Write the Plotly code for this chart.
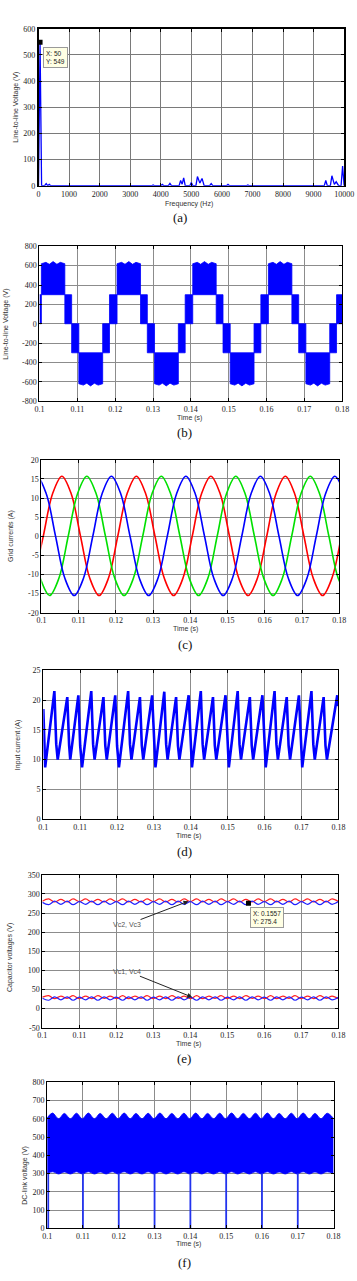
import plotly.graph_objects as go

W, H = 357, 1281

# ---------------- (a) harmonic spectrum ----------------
a_freq = [0, 50, 100, 200, 250, 300, 350, 400, 3700, 3750, 3800, 4000, 4050, 4100, 4250, 4300, 4350,
          4600, 4650, 4700, 4750, 4800, 4950, 5000, 5050, 5150, 5200, 5280, 5350, 5420, 5600, 5650, 5700,
          6150, 6200, 6250, 6800, 6850, 6900, 9350, 9400, 9450, 9550, 9600, 9680, 9740, 9820, 9900, 9950, 10000]
a_amp = [0, 549, 0, 0, 8, 0, 5, 0, 0, 3, 0, 0, 5, 0, 0, 9, 0,
         0, 20, 6, 30, 0, 0, 12, 0, 0, 35, 10, 28, 0, 0, 8, 0,
         0, 5, 0, 0, 3, 0, 0, 20, 0, 0, 38, 5, 15, 0, 0, 75, 0]
a_xticks = [0, 1000, 2000, 3000, 4000, 5000, 6000, 7000, 8000, 9000, 10000]
a_yticks = [0, 100, 200, 300, 400, 500, 600]

# ---------------- (b) line-to-line voltage (PWM bands) ----------------
b_edges = [0.1000, 0.1005, 0.1067, 0.1085, 0.1104, 0.1167, 0.1185,
           0.1205, 0.1267, 0.1285, 0.1304, 0.1367, 0.1385,
           0.1405, 0.1467, 0.1485, 0.1504, 0.1567, 0.1585,
           0.1605, 0.1667, 0.1685, 0.1704, 0.1767, 0.1785, 0.1800]
b_low = [0, 300, 0, -300, -620, -300, 0, 300, 0, -300, -620, -300, 0, 300, 0, -300, -620, -300,
         0, 300, 0, -300, -620, -300, 0]
b_high = [300, 620, 300, 0, -300, 0, 300, 620, 300, 0, -300, 0, 300, 620, 300, 0, -300, 0,
          300, 620, 300, 0, -300, 0, 300]
b_rip_pos_t = [0.1017, 0.1026, 0.1036, 0.1046, 0.1055, 0.1217, 0.1226, 0.1236, 0.1246, 0.1255,
               0.1417, 0.1426, 0.1436, 0.1446, 0.1455, 0.1617, 0.1626, 0.1636, 0.1646, 0.1655]
b_rip_pos_v = [634, 614, 642, 614, 634, 634, 614, 642, 614, 634,
               634, 614, 642, 614, 634, 634, 614, 642, 614, 634]
b_rip_neg_t = [0.1116, 0.1125, 0.1135, 0.1145, 0.1155, 0.1316, 0.1325, 0.1335, 0.1345, 0.1355,
               0.1516, 0.1525, 0.1535, 0.1545, 0.1555, 0.1716, 0.1725, 0.1735, 0.1745, 0.1755]
b_rip_neg_v = [-634, -614, -642, -614, -634, -634, -614, -642, -614, -634,
               -634, -614, -642, -614, -634, -634, -614, -642, -614, -634]
b_yticks = [-800, -600, -400, -200, 0, 200, 400, 600, 800]

# ---------------- (c) grid currents ----------------
c_red_t = [0.0980, 0.1005, 0.1030, 0.1055, 0.1080, 0.1105, 0.1130, 0.1155, 0.1180, 0.1205, 0.1230,
           0.1255, 0.1280, 0.1305, 0.1330, 0.1355, 0.1380, 0.1405, 0.1430, 0.1455, 0.1480, 0.1505,
           0.1530, 0.1555, 0.1580, 0.1605, 0.1630, 0.1655, 0.1680, 0.1705, 0.1730, 0.1755, 0.1780, 0.1805]
c_red_v = [-11.0, 0, 11.1, 15.7, 11.1, 0, -11.0, -15.5, -11.0, 0, 11.1,
           15.7, 11.1, 0, -11.0, -15.5, -11.0, 0, 11.1, 15.7, 11.1, 0,
           -11.0, -15.5, -11.0, 0, 11.1, 15.7, 11.1, 0, -11.0, -15.5, -11.0, 0]
c_grn_t = [0.0972, 0.0997, 0.1022, 0.1047, 0.1072, 0.1097, 0.1122, 0.1147, 0.1172, 0.1197, 0.1222,
           0.1247, 0.1272, 0.1297, 0.1322, 0.1347, 0.1372, 0.1397, 0.1422, 0.1447, 0.1472, 0.1497,
           0.1522, 0.1547, 0.1572, 0.1597, 0.1622, 0.1647, 0.1672, 0.1697, 0.1722, 0.1747, 0.1772,
           0.1797, 0.1822]
c_grn_v = [0, -11.0, -15.5, -11.0, 0, 11.1, 15.7, 11.1, 0, -11.0, -15.5,
           -11.0, 0, 11.1, 15.7, 11.1, 0, -11.0, -15.5, -11.0, 0, 11.1,
           15.7, 11.1, 0, -11.0, -15.5, -11.0, 0, 11.1, 15.7, 11.1, 0,
           -11.0, -15.5]
c_blu_t = [0.0963, 0.0988, 0.1013, 0.1038, 0.1063, 0.1088, 0.1113, 0.1138, 0.1163, 0.1188, 0.1213,
           0.1238, 0.1263, 0.1288, 0.1313, 0.1338, 0.1363, 0.1388, 0.1413, 0.1438, 0.1463, 0.1488,
           0.1513, 0.1538, 0.1563, 0.1588, 0.1613, 0.1638, 0.1663, 0.1688, 0.1713, 0.1738, 0.1763,
           0.1788, 0.1813]
c_blu_v = [11.1, 15.7, 11.1, 0, -11.0, -15.5, -11.0, 0, 11.1, 15.7, 11.1,
           0, -11.0, -15.5, -11.0, 0, 11.1, 15.7, 11.1, 0, -11.0, -15.5,
           -11.0, 0, 11.1, 15.7, 11.1, 0, -11.0, -15.5, -11.0, 0, 11.1,
           15.7, 11.1]
c_yticks = [-20, -15, -10, -5, 0, 5, 10, 15, 20]

# ---------------- (d) input current ----------------
d_time = [0.1000, 0.1005,
          0.1030, 0.1035, 0.1039, 0.1065, 0.1070, 0.1073, 0.1095, 0.1100, 0.1105,
          0.1130, 0.1135, 0.1139, 0.1163, 0.1168, 0.1172, 0.1195, 0.1200, 0.1205,
          0.1230, 0.1235, 0.1239, 0.1262, 0.1267, 0.1271, 0.1295, 0.1300, 0.1304,
          0.1328, 0.1333, 0.1337, 0.1360, 0.1365, 0.1369, 0.1394, 0.1399, 0.1403,
          0.1427, 0.1432, 0.1436, 0.1460, 0.1465, 0.1469, 0.1494, 0.1499, 0.1503,
          0.1527, 0.1532, 0.1536, 0.1560, 0.1565, 0.1569, 0.1594, 0.1599, 0.1603,
          0.1627, 0.1632, 0.1636, 0.1660, 0.1665, 0.1669, 0.1693, 0.1698, 0.1702,
          0.1727, 0.1732, 0.1736, 0.1760, 0.1765, 0.1769, 0.1797, 0.1800]
d_curr = [18.5, 8.7,
          21.5, 12.6, 10.0, 20.5, 12.4, 10.0, 20.8, 12.3, 8.7,
          21.5, 12.6, 10.0, 20.5, 12.4, 10.0, 20.8, 12.3, 8.7,
          21.5, 12.6, 10.0, 20.5, 12.4, 10.0, 20.8, 12.3, 8.7,
          21.4, 12.6, 10.0, 20.5, 12.4, 10.0, 20.8, 12.3, 8.7,
          21.5, 12.6, 10.0, 20.5, 12.4, 10.0, 20.8, 12.3, 8.7,
          21.5, 12.6, 10.0, 20.5, 12.4, 10.0, 20.8, 12.3, 8.7,
          21.5, 12.6, 10.0, 20.5, 12.4, 10.0, 20.8, 12.3, 8.7,
          21.5, 12.6, 10.0, 20.5, 12.4, 10.0, 20.8, 19.0]
d_yticks = [0, 5, 10, 15, 20, 25]

# ---------------- (e) capacitor voltages ----------------
e_t = [0.1000, 0.1017, 0.1033, 0.1050, 0.1067, 0.1083, 0.1100, 0.1117, 0.1133, 0.1150, 0.1167, 0.1183,
       0.1200, 0.1217, 0.1233, 0.1250, 0.1267, 0.1283, 0.1300, 0.1317, 0.1333, 0.1350, 0.1367, 0.1383,
       0.1400, 0.1417, 0.1433, 0.1450, 0.1467, 0.1483, 0.1500, 0.1517, 0.1533, 0.1550, 0.1567, 0.1583,
       0.1600, 0.1617, 0.1633, 0.1650, 0.1667, 0.1683, 0.1700, 0.1717, 0.1733, 0.1750, 0.1767, 0.1783,
       0.1800]
e_red_hi = [281, 287, 279, 286, 279, 287, 280, 287, 279, 286, 279, 287, 280,
            287, 279, 286, 279, 287, 280, 287, 279, 286, 279, 287, 280,
            287, 279, 286, 279, 287, 280, 287, 279, 286, 279, 287, 280,
            287, 279, 286, 279, 287, 280, 287, 279, 286, 279, 287, 280]
e_blu_hi = [278, 272, 281, 273, 281, 272, 280, 273, 281, 272, 281, 273, 280,
            272, 281, 273, 281, 272, 280, 273, 281, 272, 281, 273, 280,
            272, 281, 273, 281, 272, 280, 273, 281, 272, 281, 273, 280,
            272, 281, 273, 281, 272, 280, 273, 281, 272, 281, 273, 280]
e_red_lo = [30, 34, 26, 33, 27, 34, 26, 33, 26, 34, 27, 33, 26,
            34, 26, 33, 27, 34, 26, 33, 26, 34, 27, 33, 26,
            34, 26, 33, 27, 34, 26, 33, 26, 34, 27, 33, 26,
            34, 26, 33, 27, 34, 26, 33, 26, 34, 27, 33, 26]
e_blu_lo = [27, 22, 31, 23, 31, 22, 30, 23, 31, 22, 31, 23, 30,
            22, 31, 23, 31, 22, 30, 23, 31, 22, 31, 23, 30,
            22, 31, 23, 31, 22, 30, 23, 31, 22, 31, 23, 30,
            22, 31, 23, 31, 22, 30, 23, 31, 22, 31, 23, 30]
e_yticks = [-50, 0, 50, 100, 150, 200, 250, 300, 350]

# ---------------- (f) DC-link voltage ----------------
f_t = [0.1000, 0.1015, 0.1032, 0.1048, 0.1065, 0.1082, 0.1098, 0.1115, 0.1132, 0.1148, 0.1165, 0.1182,
       0.1198, 0.1215, 0.1232, 0.1248, 0.1265, 0.1282, 0.1298, 0.1315, 0.1332, 0.1348, 0.1365, 0.1382,
       0.1398, 0.1415, 0.1432, 0.1448, 0.1465, 0.1482, 0.1498, 0.1515, 0.1532, 0.1548, 0.1565, 0.1582,
       0.1598, 0.1615, 0.1632, 0.1648, 0.1665, 0.1682, 0.1698, 0.1715, 0.1732, 0.1748, 0.1765, 0.1782,
       0.1800]
f_top = [605, 632, 600, 630, 600, 631, 600, 632, 600, 630, 600, 631,
         600, 632, 600, 630, 600, 631, 600, 632, 600, 630, 600, 631,
         600, 632, 600, 630, 600, 631, 600, 632, 600, 630, 600, 631,
         600, 632, 600, 630, 600, 631, 600, 632, 600, 630, 600, 631, 602]
f_bot = [300, 310, 298, 309, 298, 310, 298, 310, 298, 309, 298, 310,
         298, 310, 298, 309, 298, 310, 298, 310, 298, 309, 298, 310,
         298, 310, 298, 309, 298, 310, 298, 310, 298, 309, 298, 310,
         298, 310, 298, 309, 298, 310, 298, 310, 298, 309, 298, 310, 300]
f_spike_t = [0.1003, 0.1100, 0.1200, 0.1300, 0.1400, 0.1500, 0.1600, 0.1700]
f_spike_lo = [0, 0, 0, 0, 0, 0, 0, 0]
f_spike_hi = [300, 300, 300, 300, 300, 300, 300, 300]
f_yticks = [0, 100, 200, 300, 400, 500, 600, 700, 800]

t_ticks = [0.10, 0.11, 0.12, 0.13, 0.14, 0.15, 0.16, 0.17, 0.18]
t_ticktext = ['0.1', '0.11', '0.12', '0.13', '0.14', '0.15', '0.16', '0.17', '0.18']

# ---------------- layout geometry (pixels) ----------------
panels = [(35, 354, 25, 183), (36, 352, 244, 400), (38, 349, 459, 613),
          (40, 348, 671, 821), (39, 348, 877, 1031), (44, 343, 1086, 1233)]

BLUE = '#0000ff'
SERIF = 'Liberation Serif, Times New Roman, serif'
SANS = 'Liberation Sans, Arial, sans-serif'

fig = go.Figure()

# (a)
fig.add_trace(go.Scatter(x=a_freq, y=a_amp, mode='lines', line=dict(color=BLUE, width=1.3),
                         xaxis='x', yaxis='y', hoverinfo='skip'))
fig.add_trace(go.Scatter(x=[a_freq[1]], y=[a_amp[1]], mode='markers',
                         marker=dict(symbol='square', size=5, color='black'),
                         xaxis='x', yaxis='y', hoverinfo='skip'))

# (b) build band envelopes from segment table
up_x, up_y, lo_x, lo_y = [], [], [], []
for i in range(len(b_low)):
    t0, t1 = b_edges[i], b_edges[i + 1]
    up_x.append(t0); up_y.append(b_high[i])
    if b_high[i] == 620:
        for tt, vv in zip(b_rip_pos_t, b_rip_pos_v):
            if t0 < tt < t1:
                up_x.append(tt); up_y.append(vv)
    up_x.append(t1); up_y.append(b_high[i])
    lo_x.append(t0); lo_y.append(b_low[i])
    if b_low[i] == -620:
        for tt, vv in zip(b_rip_neg_t, b_rip_neg_v):
            if t0 < tt < t1:
                lo_x.append(tt); lo_y.append(vv)
    lo_x.append(t1); lo_y.append(b_low[i])
fig.add_trace(go.Scatter(x=lo_x, y=lo_y, mode='lines', line=dict(color=BLUE, width=0.8),
                         xaxis='x2', yaxis='y2', hoverinfo='skip'))
fig.add_trace(go.Scatter(x=up_x, y=up_y, mode='lines', line=dict(color=BLUE, width=0.8),
                         fill='tonexty', fillcolor=BLUE, xaxis='x2', yaxis='y2', hoverinfo='skip'))

# (c)
for tx, vy, col in [(c_red_t, c_red_v, '#ff0000'), (c_grn_t, c_grn_v, '#00e000'), (c_blu_t, c_blu_v, '#0000ff')]:
    fig.add_trace(go.Scatter(x=tx, y=vy, mode='lines', line=dict(color=col, width=1.6, shape='spline'),
                             xaxis='x3', yaxis='y3', hoverinfo='skip'))

# (d)
fig.add_trace(go.Scatter(x=d_time, y=d_curr, mode='lines', line=dict(color=BLUE, width=2.6),
                         xaxis='x4', yaxis='y4', hoverinfo='skip'))

# (e)
for vy, col in [(e_red_hi, '#ff2020'), (e_blu_hi, '#2020ff'), (e_red_lo, '#ff2020'), (e_blu_lo, '#2020ff')]:
    fig.add_trace(go.Scatter(x=e_t, y=vy, mode='lines', line=dict(color=col, width=1.2, shape='spline'),
                             xaxis='x5', yaxis='y5', hoverinfo='skip'))
fig.add_trace(go.Scatter(x=[0.1557], y=[275.4], mode='markers',
                         marker=dict(symbol='square', size=5, color='black'),
                         xaxis='x5', yaxis='y5', hoverinfo='skip'))

# (f)
fig.add_trace(go.Scatter(x=f_t, y=f_bot, mode='lines', line=dict(color=BLUE, width=0.8, shape='spline'),
                         xaxis='x6', yaxis='y6', hoverinfo='skip'))
fig.add_trace(go.Scatter(x=f_t, y=f_top, mode='lines', line=dict(color=BLUE, width=0.8, shape='spline'),
                         fill='tonexty', fillcolor=BLUE, xaxis='x6', yaxis='y6', hoverinfo='skip'))
sx, sy = [], []
for tt, l0, h0 in zip(f_spike_t, f_spike_lo, f_spike_hi):
    sx += [tt, tt, None]
    sy += [l0, h0, None]
fig.add_trace(go.Scatter(x=sx, y=sy, mode='lines', line=dict(color='#2233ee', width=1.8),
                         xaxis='x6', yaxis='y6', hoverinfo='skip'))

# ---------------- axes ----------------
def tick_txt(vals):
    return [str(v) for v in vals]

axis_specs = [
    dict(xr=[0, 10000], xt=a_xticks, xtt=tick_txt(a_xticks), yr=[0, 600], yt=a_yticks),
    dict(xr=[0.1, 0.18], xt=t_ticks, xtt=t_ticktext, yr=[-800, 800], yt=b_yticks),
    dict(xr=[0.1, 0.18], xt=t_ticks, xtt=t_ticktext, yr=[-20, 20], yt=c_yticks),
    dict(xr=[0.1, 0.18], xt=t_ticks, xtt=t_ticktext, yr=[0, 25], yt=d_yticks),
    dict(xr=[0.1, 0.18], xt=t_ticks, xtt=t_ticktext, yr=[-50, 350], yt=e_yticks),
    dict(xr=[0.1, 0.18], xt=t_ticks, xtt=t_ticktext, yr=[0, 800], yt=f_yticks),
]

layout = dict(width=W, height=H, margin=dict(l=0, r=0, t=0, b=0), paper_bgcolor='white',
              plot_bgcolor='white', showlegend=False)
tickfont = dict(family=SERIF, size=8, color='#222')
for i, ((l, r, t, b), sp) in enumerate(zip(panels, axis_specs), 1):
    xa = 'xaxis' if i == 1 else 'xaxis%d' % i
    ya = 'yaxis' if i == 1 else 'yaxis%d' % i
    xn = 'x' if i == 1 else 'x%d' % i
    yn = 'y' if i == 1 else 'y%d' % i
    gc = '#7a7a7a' if i == 1 else '#8c8c8c'
    lw = 1.6 if i == 1 else 1.1
    common = dict(showgrid=True, gridcolor=gc, gridwidth=1, zeroline=False, showline=True,
                  linecolor='black', linewidth=lw, mirror='ticks', ticks='inside', ticklen=3,
                  tickcolor='black', tickfont=tickfont, fixedrange=True, ticklabeloverflow='allow')
    layout[xa] = dict(domain=[l / W, r / W], anchor=yn, range=sp['xr'], tickmode='array',
                      tickvals=sp['xt'], ticktext=sp['xtt'], **common)
    layout[ya] = dict(domain=[1 - b / H, 1 - t / H], anchor=xn, range=sp['yr'], tickmode='array',
                      tickvals=sp['yt'], ticktext=tick_txt(sp['yt']), **common)

fig.update_layout(**layout)

# ---------------- text annotations ----------------
def P(xp, yp):
    return xp / W, 1 - yp / H

ann = []
lab_font = dict(family=SANS, size=7, color='#333')
ylabels = [('Line-to-line Voltage (V)', 12, 104), ('Line-to-line Voltage (V)', 1, 322),
           ('Grid currents (A)', 6, 536), ('Input current (A)', 13, 746),
           ('Capacitor voltages (V)', 6, 960), ('DC-link voltage (V)', 21, 1180)]
for txt, xp, yp in ylabels:
    x, y = P(xp, yp)
    ann.append(dict(text=txt, x=x, y=y, xref='paper', yref='paper', showarrow=False,
                    textangle=-90, font=lab_font, xanchor='center', yanchor='middle'))
xlabels = [('Frequency (Hz)', 192, 201), ('Time (s)', 193, 417), ('Time (s)', 188, 629),
           ('Time (s)', 192, 838), ('Time (s)', 192, 1047), ('Time (s)', 192, 1249)]
for txt, xp, yp in xlabels:
    x, y = P(xp, yp)
    ann.append(dict(text=txt, x=x, y=y, xref='paper', yref='paper', showarrow=False,
                    font=lab_font, xanchor='center', yanchor='middle'))
caps = [('(a)', 183, 215), ('(b)', 187, 432), ('(c)', 188, 645), ('(d)', 187, 853),
        ('(e)', 187, 1062), ('(f)', 187, 1267)]
for txt, xp, yp in caps:
    x, y = P(xp, yp)
    ann.append(dict(text=txt, x=x, y=y, xref='paper', yref='paper', showarrow=False,
                    font=dict(family=SERIF, size=13, color='#111'), xanchor='center', yanchor='middle'))

# data tips
tip_font = dict(family=SANS, size=6.5, color='#222')
x, y = P(40, 43)
ann.append(dict(text='X: 50<br>Y: 549', x=x, y=y, xref='paper', yref='paper', showarrow=False,
                xanchor='left', yanchor='top', align='left', font=tip_font,
                bgcolor='#ffffe4', bordercolor='#9a9a9a', borderwidth=1, borderpad=2))
x, y = P(256, 909)
ann.append(dict(text='X: 0.1557<br>Y: 275.4', x=x, y=y, xref='paper', yref='paper', showarrow=False,
                xanchor='left', yanchor='top', align='left', font=tip_font,
                bgcolor='#ffffe4', bordercolor='#9a9a9a', borderwidth=1, borderpad=2))

# arrows in (e)
arr_font = dict(family=SANS, size=7, color='#555')
ann.append(dict(text='Vc2, Vc3', x=0.1395, y=281, xref='x5', yref='y5', ax=0.1230, ay=220,
                axref='x5', ayref='y5', showarrow=True, arrowhead=2, arrowsize=1, arrowwidth=1,
                arrowcolor='#222', font=arr_font))
ann.append(dict(text='Vc1, Vc4', x=0.1405, y=30, xref='x5', yref='y5', ax=0.1230, ay=98,
                axref='x5', ayref='y5', showarrow=True, arrowhead=2, arrowsize=1, arrowwidth=1,
                arrowcolor='#222', font=arr_font))

fig.update_layout(annotations=ann)
fig.write_html('out.html', config={'displayModeBar': False, 'staticPlot': True})
